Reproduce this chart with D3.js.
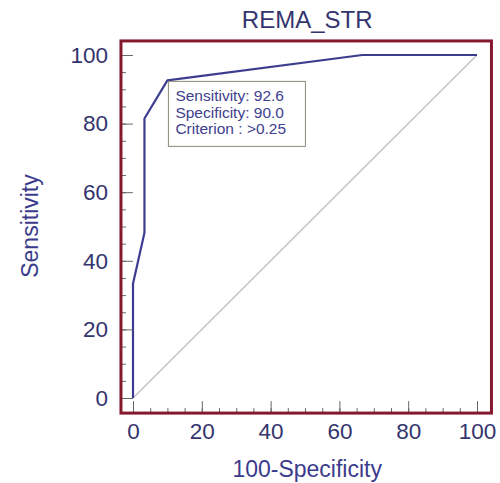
<!DOCTYPE html>
<html>
<head>
<meta charset="utf-8">
<script src="https://cdn.jsdelivr.net/npm/d3@7"></script>
<style>
  html, body { margin: 0; padding: 0; background: #ffffff; }
  svg { display: block; }
  text { font-family: "Liberation Sans", Arial, sans-serif; }
</style>
</head>
<body>
<svg id="chart" width="500" height="483"></svg>
<script>
// ROC curve for REMA_STR: 100-Specificity (x) vs Sensitivity (y)
const title = "REMA_STR";
const fpr = [0, 0, 3.33, 3.33, 10, 66.67, 100];
const sensitivity = [0, 33.33, 48.15, 81.48, 92.6, 100, 100];
const diagonal = [0, 100];
const majorTicks = [0, 20, 40, 60, 80, 100];
const minorTicks = d3.range(0, 101, 5);
const cutSensitivity = 92.6;
const cutSpecificity = 90.0;
const cutCriterion = ">0.25";
const boxLines = [
  "Sensitivity: " + cutSensitivity.toFixed(1),
  "Specificity: " + cutSpecificity.toFixed(1),
  "Criterion : " + cutCriterion
];

const svg = d3.select("#chart");
const labelColor = "#34346e";
const curveColor = "#3d3d8f";
const frameColor = "#84182c";

const x = d3.scaleLinear().domain([0, 100]).range([133, 477]);
const y = d3.scaleLinear().domain([0, 100]).range([398, 55]);

// frame extends slightly beyond the 0..100 domain
const fx0 = x(-3.5), fx1 = x(104.2);
const fy0 = y(-4.4), fy1 = y(104.1);

// chance line
svg.append("line")
  .attr("x1", x(diagonal[0])).attr("y1", y(diagonal[0]))
  .attr("x2", x(diagonal[1])).attr("y2", y(diagonal[1]))
  .attr("stroke", "#c4c4c4").attr("stroke-width", 1.5);

// ROC curve
const pts = fpr.map((v, i) => [v, sensitivity[i]]);
svg.append("path")
  .datum(pts)
  .attr("d", d3.line().x(d => x(d[0])).y(d => y(d[1])))
  .attr("fill", "none")
  .attr("stroke", curveColor)
  .attr("stroke-width", 2.2)
  .attr("stroke-linejoin", "round");

// criterion box anchored at the optimal cut-off point
const bx = x(100 - cutSpecificity), by = y(cutSensitivity);
svg.append("rect")
  .attr("x", bx + 1).attr("y", by + 1)
  .attr("width", 137).attr("height", 65)
  .attr("fill", "#ffffff")
  .attr("stroke", "#8a8a78").attr("stroke-width", 1);
svg.append("g").selectAll("text").data(boxLines).join("text")
  .attr("x", bx + 8)
  .attr("y", (d, i) => by + 21 + i * 16.5)
  .attr("font-size", 15.5)
  .attr("fill", "#40408e")
  .text(d => d);

// axes with inward ticks
const gy = svg.append("g").attr("transform", `translate(${fx0},0)`);
gy.call(d3.axisRight(y).tickValues(minorTicks).tickSize(5).tickFormat(""));
const gyMaj = svg.append("g").attr("transform", `translate(${fx0},0)`);
gyMaj.call(d3.axisLeft(y).tickValues(majorTicks).tickSizeInner(-12).tickSizeOuter(0).tickPadding(13));
gyMaj.selectAll(".tick text").attr("font-size", 22.5).attr("fill", labelColor).attr("font-family", null);

const gx = svg.append("g").attr("transform", `translate(0,${fy0})`);
gx.call(d3.axisTop(x).tickValues(minorTicks).tickSize(5).tickFormat(""));
const gxMaj = svg.append("g").attr("transform", `translate(0,${fy0})`);
gxMaj.call(d3.axisBottom(x).tickValues(majorTicks).tickSizeInner(-12).tickSizeOuter(0).tickPadding(10));
gxMaj.selectAll(".tick text").attr("font-size", 22.5).attr("fill", labelColor).attr("font-family", null);

svg.selectAll(".domain").remove();
svg.selectAll(".tick line").attr("stroke", "#666");

// frame
svg.append("rect")
  .attr("x", fx0).attr("y", fy1)
  .attr("width", fx1 - fx0).attr("height", fy0 - fy1)
  .attr("fill", "none")
  .attr("stroke", frameColor).attr("stroke-width", 3);

// titles
svg.append("text")
  .attr("x", (fx0 + fx1) / 2 + 1).attr("y", 28)
  .attr("text-anchor", "middle")
  .attr("font-size", 24)
  .attr("fill", labelColor)
  .text(title);

svg.append("text")
  .attr("x", (fx0 + fx1) / 2 + 1).attr("y", 477)
  .attr("text-anchor", "middle")
  .attr("font-size", 23)
  .attr("fill", "#3b3b8c")
  .text("100-Specificity");

svg.append("text")
  .attr("transform", `translate(38,${(fy0 + fy1) / 2 - 1}) rotate(-90)`)
  .attr("text-anchor", "middle")
  .attr("font-size", 23)
  .attr("fill", "#3b3b8c")
  .text("Sensitivity");
</script>
</body>
</html>
